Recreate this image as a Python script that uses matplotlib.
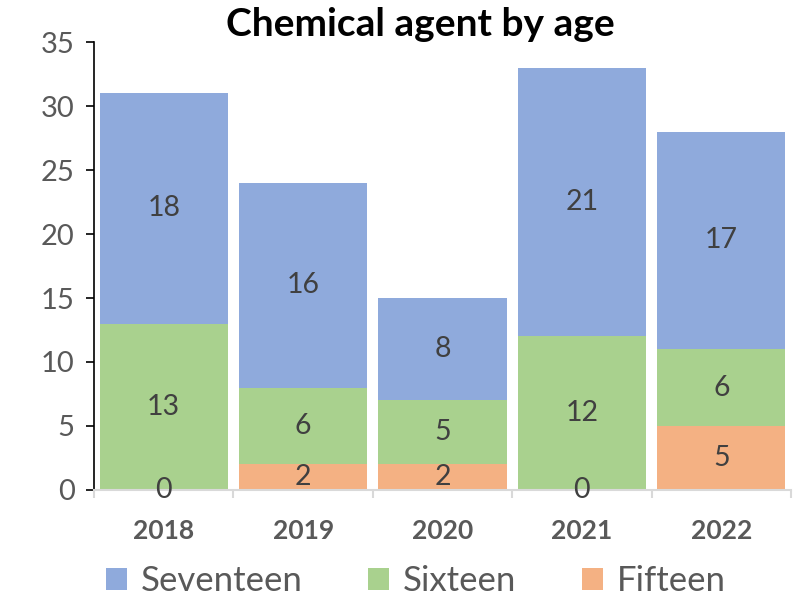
import numpy as np
import matplotlib
matplotlib.use("Agg")
from matplotlib import pyplot as plt

years = ['2018', '2019', '2020', '2021', '2022']
fifteen = [0, 2, 2, 0, 5]
sixteen = [13, 6, 5, 12, 6]
seventeen = [18, 16, 8, 21, 17]

c_seventeen = '#8FAADC'
c_sixteen = '#A9D18E'
c_fifteen = '#F4B183'

plt.rcParams['font.family'] = ['Lato', 'DejaVu Sans']

fig = plt.figure(figsize=(7.97, 6.01), dpi=100)
ax = fig.add_axes([0.118, 0.1847, 0.8745, 0.7454])

x = np.arange(len(years))
w = 0.92
b1 = ax.bar(x, fifteen, w, color=c_fifteen, label='Fifteen')
b2 = ax.bar(x, sixteen, w, bottom=fifteen, color=c_sixteen, label='Sixteen')
bottom2 = np.array(fifteen) + np.array(sixteen)
b3 = ax.bar(x, seventeen, w, bottom=bottom2, color=c_seventeen, label='Seventeen')

for bars in (b1, b2, b3):
    ax.bar_label(bars, label_type='center', fontsize=20.5, color='#404040')

ax.set_xlim(-0.5, 4.5)
ax.set_ylim(0, 35)
ax.set_yticks(range(0, 36, 5))
ax.set_xticks(x)
ax.set_xticklabels(years, fontweight='bold', fontsize=19, color='#595959')
ax.tick_params(axis='y', labelsize=21, labelcolor='#595959', length=6, width=1.2, pad=8)
ax.tick_params(axis='x', length=0, pad=21)
# category boundary ticks on x axis
ax.set_xticks(np.arange(-0.5, 5.0, 1.0), minor=True)
ax.tick_params(axis='x', which='minor', length=6, color='#D9D9D9', width=1.5)

for s in ['top', 'right']:
    ax.spines[s].set_visible(False)
ax.spines['left'].set_color('black')
ax.spines['left'].set_linewidth(1.2)
ax.spines['bottom'].set_color('#D9D9D9')
ax.spines['bottom'].set_linewidth(1.5)

ax.set_title('Chemical agent by age', fontsize=28, fontweight='bold', pad=2, x=0.468)

h, l = ax.get_legend_handles_labels()
fig.legend(h[::-1], l[::-1], loc='center', bbox_to_anchor=(0.522, 0.033), ncol=3,
           frameon=False, fontsize=25, labelcolor='#595959', handlelength=0.6,
           handleheight=0.6, handletextpad=0.4, columnspacing=1.9)

fig.savefig('out.png', dpi=100)
